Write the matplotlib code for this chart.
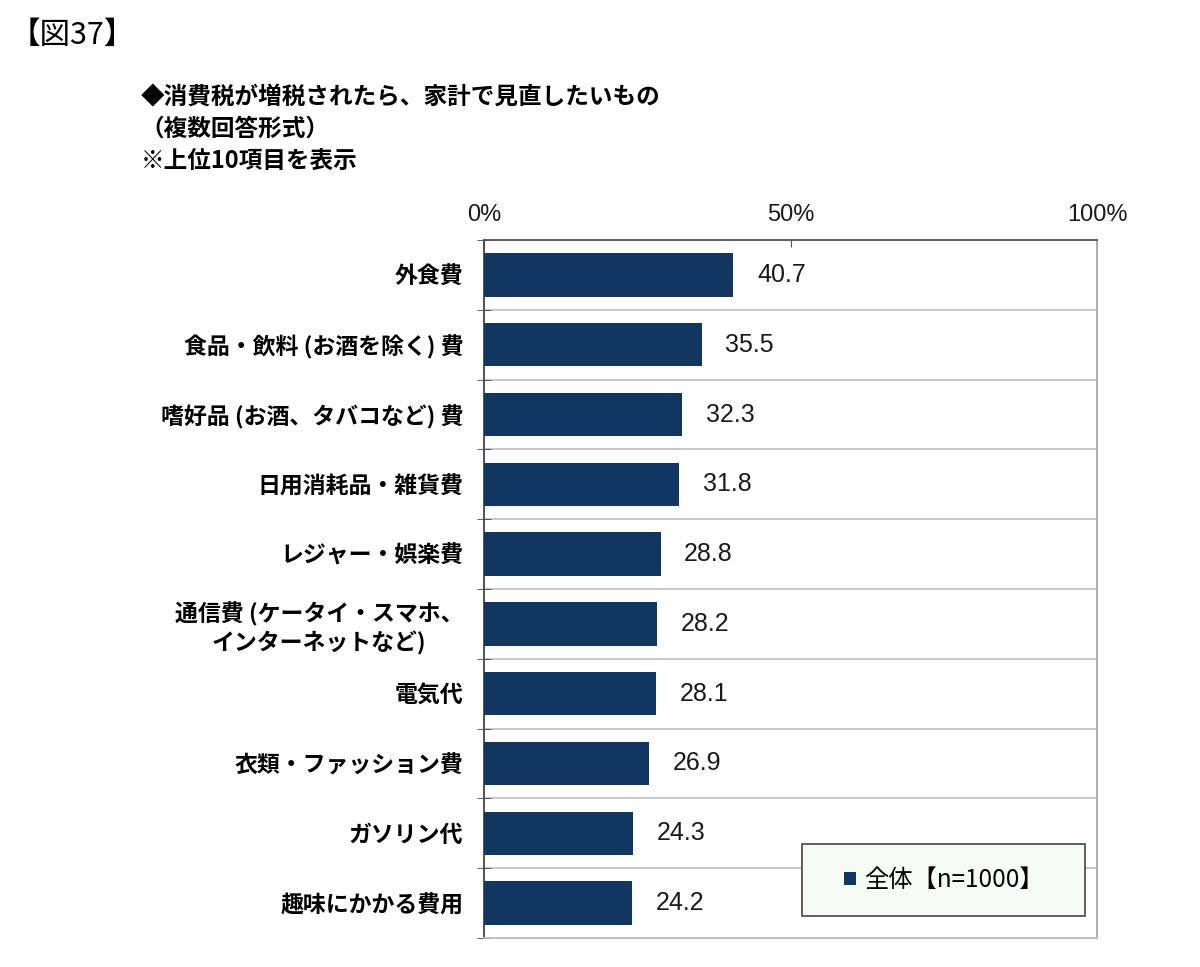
import numpy as np
from matplotlib import pyplot as plt

plt.rcParams['font.family'] = ['Noto Sans CJK JP', 'DejaVu Sans']

# categories, top to bottom
categories = ["外食費",
              "食品・飲料 (お酒を除く) 費",
              "嗜好品 (お酒、タバコなど) 費",
              "日用消耗品・雑貨費",
              "レジャー・娯楽費",
              "通信費 (ケータイ・スマホ、\nインターネットなど)",
              "電気代",
              "衣類・ファッション費",
              "ガソリン代",
              "趣味にかかる費用"]
values = [40.7, 35.5, 32.3, 31.8, 28.8, 28.2, 28.1, 26.9, 24.3, 24.2]
xticks = [0, 50, 100]
xtick_labels = ["0%", "50%", "100%"]
series_name = "全体【n=1000】"

bar_color = "#11365f"
grid_color = "#bdbdbd"
num_font = ['Liberation Sans', 'DejaVu Sans']

fig = plt.figure(figsize=(12, 9.67), dpi=100)
ax = fig.add_axes([0.4033, 0.030, 0.5109, 0.7218])

pos = np.arange(len(categories))
ax.barh(pos, values, height=0.62, color=bar_color, label=series_name, zorder=3)

# value labels right of bars
for p, v in zip(pos, values):
    ax.annotate(f"{v:.1f}", (v, p), xytext=(17, 0), textcoords="offset points",
                va="center", ha="left", fontsize=18, color="#1a1a1a", family=num_font)

ax.set_xlim(0, 100)
ax.set_ylim(len(categories) - 0.5, -0.5)

# x axis on top
ax.xaxis.tick_top()
ax.set_xticks(xticks)
ax.set_xticklabels(xtick_labels, fontsize=17, color="#1a1a1a", family=num_font)
ax.tick_params(axis="x", direction="in", length=5, pad=10, color="#555555")

# category labels, and tick marks at the row boundaries
ax.set_yticks(pos)
ax.set_yticklabels(categories, fontsize=16.5, fontweight="bold", multialignment="center",
                   linespacing=1.25)
ax.tick_params(axis="y", which="major", length=0, pad=15)
ax.set_yticks(np.arange(len(categories) + 1) - 0.5, minor=True)
ax.tick_params(axis="y", which="minor", direction="inout", length=10, color="#444444")
ax.grid(axis="y", which="minor", color=grid_color, linewidth=1.2, zorder=0)

ax.spines["top"].set_color("#555555")
ax.spines["left"].set_color("#444444")
ax.spines["right"].set_color("#aaaaaa")
ax.spines["bottom"].set_color(grid_color)
for s in ax.spines.values():
    s.set_linewidth(1.3)

leg = ax.legend(loc="center", bbox_to_anchor=(0.519, 0.030, 0.462, 0.106), mode="expand",
                borderaxespad=0, fontsize=17.5, frameon=True, fancybox=False, borderpad=0.95,
                handlelength=0.5, handleheight=0.5, handletextpad=0.3)
leg.get_frame().set_facecolor("#f5fbf5")
leg.get_frame().set_edgecolor("#444444")
leg.get_frame().set_linewidth(1.2)
leg.get_frame().set_alpha(1)
# centre the entry inside the wide box
leg._legend_handle_box.mode = "fixed"
leg._legend_box.align = "center"

# titles
fig.text(0.008, 0.963, "【図37】", fontsize=22, va="center", ha="left")
fig.text(0.117, 0.899, "◆消費税が増税されたら、家計で見直したいもの", fontsize=17,
         fontweight="bold", va="center", ha="left")
fig.text(0.117, 0.867, "（複数回答形式）", fontsize=17, fontweight="bold", va="center", ha="left")
fig.text(0.117, 0.834, "※上位10項目を表示", fontsize=17, fontweight="bold", va="center", ha="left")

fig.savefig("out.png", dpi=100)
